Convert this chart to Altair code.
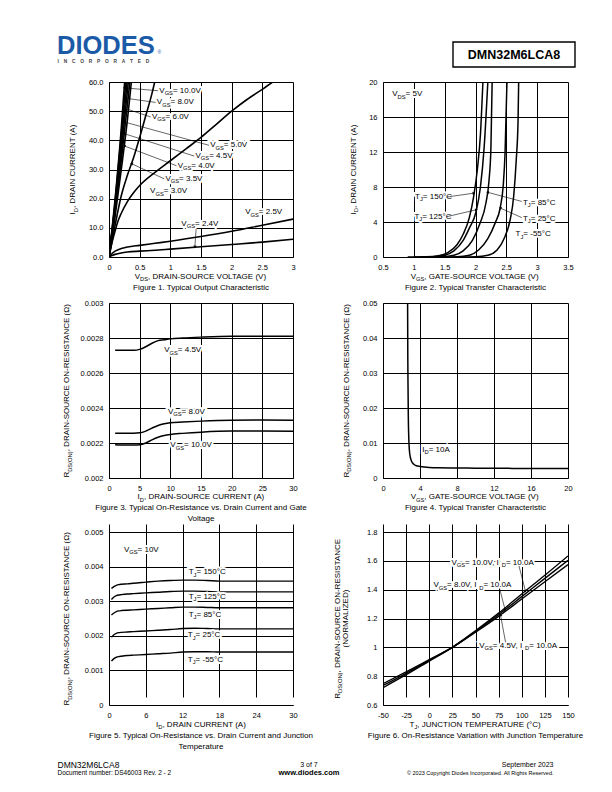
import math
import altair as alt
import pandas as pd

FONT = "Liberation Sans"
BLUE = "#1b5aa7"

# ---------------- Figure 1: Typical Output Characteristic ----------------
F1_X_TICKS = [0, 0.5, 1, 1.5, 2, 2.5, 3]
F1_Y_TICKS = [0, 10, 20, 30, 40, 50, 60]
F1_VGS10_X = [0, 0.1, 0.2, 0.255]
F1_VGS10_Y = [0, 20, 44, 60]
F1_VGS8_X = [0, 0.1, 0.2, 0.275]
F1_VGS8_Y = [0, 19, 42, 60]
F1_VGS6_X = [0, 0.1, 0.2, 0.295]
F1_VGS6_Y = [0, 18, 39, 60]
F1_VGS5_X = [0, 0.1, 0.2, 0.315]
F1_VGS5_Y = [0, 17, 36, 60]
F1_VGS45_X = [0, 0.1, 0.2, 0.34]
F1_VGS45_Y = [0, 16, 33, 60]
F1_VGS4_X = [0, 0.1, 0.2, 0.3, 0.365]
F1_VGS4_Y = [0, 14, 30, 47, 60]
F1_VGS35_X = [0, 0.1, 0.2, 0.3, 0.4, 0.5, 0.6, 0.7, 0.745]
F1_VGS35_Y = [0, 11, 21, 28, 34, 41, 48.5, 56, 60]
F1_VGS3_X = [0, 0.05, 0.1, 0.15, 0.2, 0.3, 0.4, 0.5, 0.75, 1.0, 1.25, 1.5, 1.75, 2.0, 2.25, 2.5, 2.67]
F1_VGS3_Y = [0, 5, 9, 12.5, 15, 19, 22, 24.5, 29, 33, 37, 41, 45.5, 50, 54, 57.5, 60]
F1_VGS25_X = [0, 0.05, 0.1, 0.2, 0.3, 0.5, 0.75, 1.0, 1.5, 2.0, 2.5, 3.0]
F1_VGS25_Y = [0, 1.2, 2.0, 2.9, 3.4, 4.0, 4.7, 5.4, 7.0, 8.8, 10.9, 13.0]
F1_VGS24_X = [0, 0.05, 0.1, 0.2, 0.3, 0.5, 0.75, 1.0, 1.5, 2.0, 2.5, 3.0]
F1_VGS24_Y = [0, 0.5, 0.9, 1.4, 1.7, 2.0, 2.3, 2.7, 3.5, 4.3, 5.1, 6.1]
F1_LABELS = ["10.0V", "8.0V", "6.0V", "5.0V", "4.5V", "4.0V", "3.5V", "3.0V", "2.5V", "2.4V"]
F1_LABEL_X = [0.82, 0.78, 0.70, 1.65, 1.41, 1.12, 0.92, 0.67, 2.22, 1.18]
F1_LABEL_Y = [57.0, 53.0, 48.0, 38.3, 34.6, 31.3, 26.8, 22.5, 15.3, 11.4]
F1_LEAD_X = [0.80, 0.76, 0.68, 1.63, 1.39, 1.10, 0.90, 1.42]
F1_LEAD_Y = [57.0, 53.0, 48.0, 38.3, 34.6, 31.3, 26.8, 9.6]
F1_TIP_X = [0.248, 0.252, 0.254, 0.249, 0.248, 0.248, 0.367, 1.40]
F1_TIP_Y = [58.0, 54.5, 51.0, 46.3, 42.3, 38.1, 32.0, 3.4]

# ---------------- Figure 2: Typical Transfer Characteristic ----------------
F2_X_TICKS = [0.5, 1, 1.5, 2, 2.5, 3, 3.5]
F2_Y_TICKS = [0, 4, 8, 12, 16, 20]
F2_T150_X = [0.9, 1.2, 1.4, 1.55, 1.7, 1.8, 1.9, 1.97, 2.03, 2.08, 2.12]
F2_T150_Y = [0, 0.03, 0.15, 0.5, 1.4, 2.6, 4.5, 6.9, 10, 14, 20]
F2_T125_X = [1.0, 1.3, 1.5, 1.65, 1.8, 1.9, 2.01, 2.08, 2.14, 2.2]
F2_T125_Y = [0, 0.03, 0.2, 0.7, 1.9, 3.3, 5.2, 8, 12.5, 20]
F2_T85_X = [1.1, 1.45, 1.65, 1.8, 1.95, 2.07, 2.17, 2.22, 2.25, 2.27]
F2_T85_Y = [0, 0.03, 0.2, 0.7, 1.9, 3.8, 6.2, 8.8, 12.5, 20]
F2_T25_X = [1.3, 1.7, 1.9, 2.05, 2.2, 2.32, 2.4, 2.45, 2.48, 2.51]
F2_T25_Y = [0, 0.03, 0.2, 0.8, 2.1, 3.9, 5.6, 8.2, 12, 20]
F2_TM55_X = [1.7, 2.0, 2.2, 2.35, 2.47, 2.56, 2.62, 2.66, 2.69, 2.70]
F2_TM55_Y = [0, 0.03, 0.2, 0.8, 2.2, 4.2, 7, 11, 15.5, 20]
F2_TEMPS = ["150°C", "125°C", "85°C", "25°C", "-55°C"]
F2_LABEL_X = [1.02, 1.01, 2.77, 2.77, 2.65]
F2_LABEL_Y = [6.85, 4.6, 6.2, 4.35, 2.6]
F2_LEAD_X = [1.53, 1.53, 2.75, 2.75]
F2_LEAD_Y = [6.85, 4.6, 6.35, 4.5]
F2_TIP_X = [1.975, 2.015, 2.195, 2.4]
F2_TIP_Y = [7.3, 5.4, 7.4, 5.6]

# ---------------- Figure 3: On-Resistance vs Drain Current and Gate Voltage ----------------
F3_X_TICKS = [0, 5, 10, 15, 20, 25, 30]
F3_Y_TICKS = [0.002, 0.0022, 0.0024, 0.0026, 0.0028, 0.003]
F3_ID = [1, 2, 3, 4, 5, 6, 7, 8, 9, 10, 12, 15, 20, 25, 30]
F3_VGS45 = [0.00273, 0.00273, 0.00273, 0.00273, 0.002735, 0.00275, 0.00277, 0.002785,
            0.00279, 0.002795, 0.0028, 0.002805, 0.00281, 0.00281, 0.00281]
F3_VGS8 = [0.002256, 0.002256, 0.002256, 0.002256, 0.002258, 0.002268, 0.002285, 0.0023,
           0.00231, 0.002316, 0.00232, 0.002325, 0.00233, 0.002331, 0.00233]
F3_VGS10 = [0.00219, 0.002188, 0.002188, 0.002188, 0.00219, 0.0022, 0.002218, 0.002233,
            0.002243, 0.002249, 0.002255, 0.002262, 0.002268, 0.002268, 0.002267]
F3_LABELS = ["4.5V", "8.0V", "10.0V"]
F3_LABEL_X = [9, 9.6, 10.0]
F3_LABEL_Y = [0.00273, 0.002379, 0.002187]

# ---------------- Figure 4: RDS(on) vs Gate-Source Voltage ----------------
F4_X_TICKS = [0, 4, 8, 12, 16, 20]
F4_Y_TICKS = [0, 0.01, 0.02, 0.03, 0.04, 0.05]
F4_VGS = [2.66, 2.68, 2.71, 2.74, 2.78, 2.85, 2.95, 3.1, 3.3, 3.6, 4, 5, 6, 8, 10, 14, 20]
F4_RDS = [0.05, 0.035, 0.025, 0.017, 0.012, 0.008, 0.006, 0.0047, 0.004, 0.0035, 0.0033,
          0.003, 0.0029, 0.00285, 0.0028, 0.00275, 0.0027]

# ---------------- Figure 5: On-Resistance vs Drain Current and Junction Temperature ----------------
F5_X_TICKS = [0, 6, 12, 18, 24, 30]
F5_Y_TICKS = [0, 0.001, 0.002, 0.003, 0.004, 0.005]
F5_ID = [0.4, 0.8, 1.2, 1.6, 2, 3, 4, 6, 8, 10, 12, 14, 16, 18, 20, 24, 30]
F5_T150 = [0.00337, 0.00342, 0.00346, 0.00348, 0.00349, 0.0035, 0.00352, 0.00355, 0.00358,
           0.0036, 0.00361, 0.00361, 0.0036, 0.00358, 0.00358, 0.00358, 0.00358]
F5_T125 = [0.00305, 0.00312, 0.00316, 0.00318, 0.00319, 0.00321, 0.00322, 0.00324, 0.00326,
           0.00328, 0.00329, 0.00329, 0.00328, 0.00327, 0.00327, 0.00327, 0.00327]
F5_T85 = [0.0026, 0.00266, 0.0027, 0.00272, 0.00273, 0.00274, 0.00275, 0.00277, 0.00279,
          0.00281, 0.00283, 0.00283, 0.00282, 0.00281, 0.00281, 0.00281, 0.00281]
F5_T25 = [0.00196, 0.00203, 0.00207, 0.00209, 0.0021, 0.00211, 0.00212, 0.00214, 0.00216,
          0.00218, 0.00221, 0.00222, 0.00221, 0.0022, 0.0022, 0.0022, 0.0022]
F5_TM55 = [0.00127, 0.00134, 0.00138, 0.0014, 0.00141, 0.00143, 0.00144, 0.00146, 0.00148,
           0.0015, 0.00153, 0.00154, 0.00154, 0.00153, 0.00153, 0.00153, 0.00153]
F5_TEMPS = ["150°C", "125°C", "85°C", "25°C", "-55°C"]
F5_LABEL_X = [13.0, 13.0, 13.0, 12.85, 12.85]
F5_LABEL_Y = [0.00383, 0.003125, 0.0026, 0.00202, 0.0013]

# ---------------- Figure 6: On-Resistance vs Junction Temperature ----------------
F6_X_TICKS = [-50, -25, 0, 25, 50, 75, 100, 125, 150]
F6_Y_TICKS = [0.6, 0.8, 1, 1.2, 1.4, 1.6, 1.8]
F6_TJ = [-50, -25, 0, 25, 50, 75, 100, 125, 150]
F6_VGS10 = [0.72, 0.81, 0.905, 1.0, 1.115, 1.237, 1.37, 1.5, 1.634]
F6_VGS8 = [0.735, 0.82, 0.91, 1.0, 1.11, 1.226, 1.352, 1.478, 1.604]
F6_VGS45 = [0.748, 0.83, 0.915, 1.0, 1.105, 1.215, 1.335, 1.455, 1.574]
F6_LABEL_V = ["10.0V", "8.0V", "4.5V"]
F6_LABEL_X = [24, 4.5, 54]
F6_LABEL_Y = [1.588, 1.431, 1.011]
F6_LEAD_X = [97, 76, 82.5]
F6_LEAD_Y = [1.565, 1.41, 1.035]
F6_TIP_X = [104, 82, 77]
F6_TIP_Y = [1.39, 1.26, 1.225]

# ---------------- helpers ----------------
_AW = {' ': 278, '!': 278, '(': 333, ')': 333, ',': 278, '-': 333, '.': 278, '/': 278,
       ':': 278, '=': 584, '°': 400, 'Ω': 768, '©': 737}
for _c in "0123456789":
    _AW[_c] = 556
_AW.update(dict(A=667, B=667, C=722, D=722, E=667, F=611, G=778, H=722, I=278, J=500, K=667,
                L=556, M=833, N=722, O=778, P=667, Q=778, R=722, S=667, T=611, U=722, V=667,
                W=944, X=667, Y=667, Z=611))
_AW.update(dict(a=556, b=556, c=500, d=556, e=556, f=278, g=556, h=556, i=222, j=222, k=500,
                l=222, m=833, n=556, o=556, p=556, q=556, r=333, s=500, t=278, u=556, v=500,
                w=722, x=500, y=500, z=500))


def tw(s, size):
    return sum(_AW.get(c, 556) for c in s) * size / 1000.0


ONE = pd.DataFrame({"k": [0]})
RAW = "'' + datum.value"


class Frame:
    """Scales and axes shared by every data layer of one panel."""

    def __init__(self, xdom, ydom, xticks, yticks, yrange=None, ylabel=RAW):
        self.xs = alt.Scale(domain=xdom, nice=False, zero=False)
        if yrange is None:
            self.ys = alt.Scale(domain=ydom, nice=False, zero=False)
        else:
            self.ys = alt.Scale(domain=ydom, range=yrange, nice=False, zero=False)
        self.xa = alt.Axis(values=xticks, labelExpr=RAW, title="")
        if ylabel == RAW:
            self.ya = alt.Axis(values=yticks, labelExpr=RAW, title="")
        else:
            self.ya = alt.Axis(values=yticks, format=ylabel, title="")

    def X(self, f):
        return alt.X(f, type="quantitative", scale=self.xs, axis=self.xa)

    def Y(self, f):
        return alt.Y(f, type="quantitative", scale=self.ys, axis=self.ya)


def rich(parts, size, x, y, anchor="start", angle=0, halo=False, data=None, fr=None):
    sizes = [size * 0.72 if sub else size for _, sub in parts]
    widths = [tw(t, s) for (t, _), s in zip(parts, sizes)]
    total = sum(widths)
    off = {"start": 0, "middle": -total / 2, "end": -total}[anchor]
    halos, texts = [], []
    for (t, sub), s, w in zip(parts, sizes, widths):
        props = dict(text=t, fontSize=s, font=FONT, align="left", baseline="middle",
                     dx=off, dy=(size * 0.3 if sub else 0))
        if angle:
            props["angle"] = angle
        if data is None:
            enc = dict(x=alt.value(x), y=alt.value(y))
            src = ONE
        else:
            enc = dict(x=fr.X(x), y=fr.Y(y))
            src = data
        if halo:
            halos.append(alt.Chart(src).mark_text(color="white", stroke="white", strokeWidth=4,
                                                  **props).encode(**enc))
        texts.append(alt.Chart(src).mark_text(color="black", **props).encode(**enc))
        off += w
    return halos, texts


def ptext(t, x, y, size, align="center", bold=False, color="black", baseline="middle"):
    props = dict(text=t, fontSize=size, font=FONT, align=align, baseline=baseline, color=color)
    if bold:
        props["fontWeight"] = "bold"
    return alt.Chart(ONE).mark_text(**props).encode(x=alt.value(x), y=alt.value(y))


def curves(series, fr, sw=1.5):
    rows = []
    for name, xv, yv in series:
        for i, (a, b) in enumerate(zip(xv, yv)):
            rows.append({"s": name, "i": i, "x": a, "y": b})
    df = pd.DataFrame(rows)
    return alt.Chart(df).mark_line(color="black", strokeWidth=sw, clip=True,
                                   interpolate="monotone").encode(
        x=fr.X("x"), y=fr.Y("y"), detail="s:N", order="i:Q")


def leaders(sx, sy, tx, ty, fr, kx, ky):
    df = pd.DataFrame({"x": sx, "y": sy, "x2": tx, "y2": ty})
    df["ang"] = [math.degrees(math.atan2((b - a) * kx, (d - c) * ky)) % 360
                 for a, b, c, d in zip(sx, tx, sy, ty)]
    rule = alt.Chart(df).mark_rule(color="black", strokeWidth=0.6).encode(
        x=fr.X("x"), y=fr.Y("y"), x2="x2:Q", y2="y2:Q")
    head = alt.Chart(df).mark_point(shape="triangle-up", filled=True, color="black", size=10,
                                    opacity=1).encode(
        x=fr.X("x2"), y=fr.Y("y2"), angle=alt.Angle("ang:Q", scale=None))
    return [rule, head]


def data_label(parts, x, y, fr, size=8, halo=True):
    df = pd.DataFrame({"x": [x], "y": [y]})
    return rich(parts, size, "x", "y", data=df, fr=fr, halo=halo)


def label_block(items, fr):
    """items: list of (parts, x, y); halos drawn first, then texts."""
    halos, texts = [], []
    for parts, x, y in items:
        h, t = data_label(parts, x, y, fr)
        halos += h
        texts += t
    return halos, texts


TS = 8      # axis title size
CS = 8      # caption size
R_TITLE = [("R", 0), ("DS(ON)", 1), (", DRAIN-SOURCE ON-RESISTANCE (Ω)", 0)]

# ---------------- Panel 1 ----------------
W1, H1 = 184, 175
f1 = Frame([0, 3], [0, 60], F1_X_TICKS, F1_Y_TICKS, ylabel=".1f")
L = [curves([("10", F1_VGS10_X, F1_VGS10_Y), ("8", F1_VGS8_X, F1_VGS8_Y),
             ("6", F1_VGS6_X, F1_VGS6_Y), ("5", F1_VGS5_X, F1_VGS5_Y),
             ("45", F1_VGS45_X, F1_VGS45_Y), ("4", F1_VGS4_X, F1_VGS4_Y),
             ("35", F1_VGS35_X, F1_VGS35_Y), ("3", F1_VGS3_X, F1_VGS3_Y),
             ("25", F1_VGS25_X, F1_VGS25_Y), ("24", F1_VGS24_X, F1_VGS24_Y)], f1, sw=1.6)]
h, t = label_block([([("V", 0), ("GS", 1), (" = " + lab, 0)], lx, ly)
                    for lab, lx, ly in zip(F1_LABELS, F1_LABEL_X, F1_LABEL_Y)], f1)
L += h
L += leaders(F1_LEAD_X, F1_LEAD_Y, F1_TIP_X, F1_TIP_Y, f1, W1 / 3, H1 / 60)
L += t
for grp in (rich([("V", 0), ("DS", 1), (", DRAIN-SOURCE VOLTAGE (V)", 0)], TS, W1 / 2, 194.7,
                 anchor="middle"),
            rich([("I", 0), ("D", 1), (", DRAIN CURRENT (A)", 0)], TS, -35.7, H1 / 2,
                 anchor="middle", angle=270)):
    L += grp[0] + grp[1]
L.append(ptext("Figure 1. Typical Output Characteristic", W1 / 2, 206, CS))
# page header (logo)
L.append(ptext("DIODES", -52, -28, 25.5, align="left", bold=True, color=BLUE,
               baseline="alphabetic"))
L.append(ptext("\u2003".join("INCORPORATED"), -51.5, -20.5, 4.8, align="left", bold=True,
               color="#444444"))
L.append(ptext("®", 48.5, -30, 5, align="left", color=BLUE))
L.append(alt.Chart(ONE).mark_rect(color="white").encode(
    x=alt.value(-101), x2=alt.value(-100), y=alt.value(-74), y2=alt.value(-73)))
p1 = alt.layer(*L).properties(width=W1, height=H1)

# ---------------- Panel 2 ----------------
W2, H2 = 185, 175
f2 = Frame([0.5, 3.5], [0, 20], F2_X_TICKS, F2_Y_TICKS)
L = [curves([("150", F2_T150_X, F2_T150_Y), ("125", F2_T125_X, F2_T125_Y),
             ("85", F2_T85_X, F2_T85_Y), ("25", F2_T25_X, F2_T25_Y),
             ("-55", F2_TM55_X, F2_TM55_Y)], f2)]
items = [([("V", 0), ("DS", 1), (" = 5V", 0)], 0.65, 18.6)]
items += [([("T", 0), ("J", 1), (" = " + lab, 0)], lx, ly)
          for lab, lx, ly in zip(F2_TEMPS, F2_LABEL_X, F2_LABEL_Y)]
h, t = label_block(items, f2)
L += h
L += leaders(F2_LEAD_X, F2_LEAD_Y, F2_TIP_X, F2_TIP_Y, f2, W2 / 3, H2 / 20)
L += t
for grp in (rich([("V", 0), ("GS", 1), (", GATE-SOURCE VOLTAGE (V)", 0)], TS, W2 / 2, 194.7,
                 anchor="middle"),
            rich([("I", 0), ("D", 1), (", DRAIN CURRENT (A)", 0)], TS, -29, H2 / 2,
                 anchor="middle", angle=270)):
    L += grp[0] + grp[1]
L.append(ptext("Figure 2. Typical Transfer Characteristic", W2 / 2, 206, CS))
# header part-number box
L.append(alt.Chart(ONE).mark_rect(fill="white", stroke="black", strokeWidth=1.4).encode(
    x=alt.value(70), x2=alt.value(192), y=alt.value(-40), y2=alt.value(-15)))
L.append(ptext("DMN32M6LCA8", 131, -27.5, 12.5, bold=True))
p2 = alt.layer(*L).properties(width=W2, height=H2)

# ---------------- Panel 3 ----------------
W3, H3 = 184, 175
f3 = Frame([0, 30], [0.002, 0.003], F3_X_TICKS, F3_Y_TICKS)
L = [curves([("45", F3_ID, F3_VGS45), ("8", F3_ID, F3_VGS8), ("10", F3_ID, F3_VGS10)], f3)]
h, t = label_block([([("V", 0), ("GS", 1), (" = " + lab, 0)], lx, ly)
                    for lab, lx, ly in zip(F3_LABELS, F3_LABEL_X, F3_LABEL_Y)], f3)
L += h + t
for grp in (rich([("I", 0), ("D", 1), (", DRAIN-SOURCE CURRENT (A)", 0)], TS, W3 / 2, 194.3,
                 anchor="middle"),
            rich(R_TITLE, TS, -41.7, H3 / 2, anchor="middle", angle=270)):
    L += grp[0] + grp[1]
L.append(ptext("Figure 3. Typical On-Resistance vs. Drain Current and Gate", W3 / 2, 204.7, CS))
L.append(ptext("Voltage", W3 / 2, 216, CS))
p3 = alt.layer(*L).properties(width=W3, height=H3)

# ---------------- Panel 4 ----------------
W4, H4 = 185, 175
f4 = Frame([0, 20], [0, 0.05], F4_X_TICKS, F4_Y_TICKS)
L = [curves([("10A", F4_VGS, F4_RDS)], f4)]
h, t = label_block([([("I", 0), ("D", 1), (" = 10A", 0)], 4.25, 0.008)], f4)
L += h + t
for grp in (rich([("V", 0), ("GS", 1), (", GATE-SOURCE VOLTAGE (V)", 0)], TS, W4 / 2, 194.3,
                 anchor="middle"),
            rich(R_TITLE, TS, -36.3, H4 / 2, anchor="middle", angle=270)):
    L += grp[0] + grp[1]
L.append(ptext("Figure 4. Typical Transfer Characteristic", W4 / 2, 204.5, CS))
p4 = alt.layer(*L).properties(width=W4, height=H4)

# ---------------- Panel 5 ----------------
W5, H5, T5 = 184, 181, 8
f5 = Frame([0, 30], [0, 0.005], F5_X_TICKS, F5_Y_TICKS, yrange=[H5, T5])
L = [curves([("150", F5_ID, F5_T150), ("125", F5_ID, F5_T125), ("85", F5_ID, F5_T85),
             ("25", F5_ID, F5_T25), ("-55", F5_ID, F5_TM55)], f5, sw=1.4)]
items = [([("V", 0), ("GS", 1), (" = 10V", 0)], 2.43, 0.00449)]
items += [([("T", 0), ("J", 1), (" = " + lab, 0)], lx, ly)
          for lab, lx, ly in zip(F5_TEMPS, F5_LABEL_X, F5_LABEL_Y)]
h, t = label_block(items, f5)
L += h + t
for grp in (rich([("I", 0), ("D", 1), (", DRAIN CURRENT (A)", 0)], TS, W5 / 2, 201,
                 anchor="middle"),
            rich(R_TITLE, TS, -41.7, T5 + (H5 - T5) / 2, anchor="middle", angle=270)):
    L += grp[0] + grp[1]
L.append(ptext("Figure 5. Typical On-Resistance vs. Drain Current and Junction", W5 / 2, 211.7, CS))
L.append(ptext("Temperature", W5 / 2, 222.7, CS))
# page footer (left / centre)
L.append(ptext("DMN32M6LCA8", -51.5, 241, 8.5, align="left"))
L.append(ptext("Document number: DS46003 Rev. 2 - 2", -51.5, 248.5, 6.5, align="left"))
L.append(ptext("3 of 7", 200, 240.5, 7))
L.append(ptext("www.diodes.com", 200, 248.5, 7.5, bold=True))
p5 = alt.layer(*L).properties(width=W5, height=H5)

# ---------------- Panel 6 ----------------
W6, H6, T6 = 185, 181, 8
f6 = Frame([-50, 150], [0.6, 1.8], F6_X_TICKS, F6_Y_TICKS, yrange=[H6, T6])
L = [curves([("10", F6_TJ, F6_VGS10), ("8", F6_TJ, F6_VGS8), ("45", F6_TJ, F6_VGS45)], f6,
            sw=1.4)]
h, t = label_block([([("V", 0), ("GS", 1), (" = " + lab + ", I", 0), ("D", 1), (" = 10.0A", 0)],
                     lx, ly) for lab, lx, ly in zip(F6_LABEL_V, F6_LABEL_X, F6_LABEL_Y)], f6)
L += h
L += leaders(F6_LEAD_X, F6_LEAD_Y, F6_TIP_X, F6_TIP_Y, f6, W6 / 200, (H6 - T6) / 1.2)
L += t
for grp in (rich([("T", 0), ("J", 1), (", JUNCTION TEMPERATURE (°C)", 0)], TS, W6 / 2, 201,
                 anchor="middle"),
            rich([("R", 0), ("DS(ON)", 1), (", DRAIN-SOURCE ON-RESISTANCE", 0)], TS, -45.5,
                 T6 + (H6 - T6) / 2, anchor="middle", angle=270),
            rich([("(NORMALIZED)", 0)], TS, -37.5, T6 + (H6 - T6) / 2, anchor="middle",
                 angle=270)):
    L += grp[0] + grp[1]
L.append(ptext("Figure 6. On-Resistance Variation with Junction Temperature", W6 / 2, 211.7, CS))
# page footer (right)
L.append(ptext("September 2023", 170.5, 240.5, 7, align="right"))
L.append(ptext("© 2023 Copyright Diodes Incorporated. All Rights Reserved.", 170.5, 248.5, 5.5,
               align="right"))
p6 = alt.layer(*L).properties(width=W6, height=H6)

chart = alt.concat(p1, p2, p3, p4, p5, p6, columns=2, spacing={"row": 46, "column": 90},
                   bounds="flush", align="each").properties(padding=0)
chart = chart.configure(font=FONT).configure_view(strokeWidth=0).configure_axis(
    labelFont=FONT, labelFontSize=7.5, labelColor="black", domainColor="black", domainWidth=1,
    gridColor="black", gridWidth=1, gridOpacity=1, ticks=False, tickSize=0, labelPadding=6,
    labelFlush=False, labelOverlap=False)

chart.save("out.html", embed_options={"renderer": "svg", "actions": False})
